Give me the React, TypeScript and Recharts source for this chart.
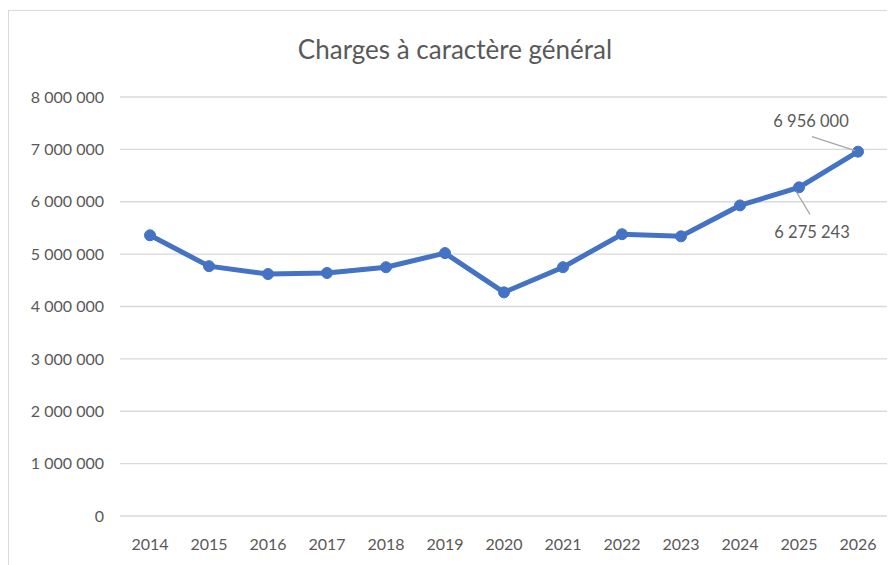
import { CartesianGrid, LabelList, Line, LineChart, XAxis, YAxis } from "recharts";

const years = ["2014", "2015", "2016", "2017", "2018", "2019", "2020", "2021", "2022", "2023", "2024", "2025", "2026"];
const charges = [5360000, 4770000, 4620000, 4640000, 4750000, 5020000, 4270000, 4750000, 5380000, 5340000, 5930000, 6275243, 6956000];
const yTicks = [0, 1000000, 2000000, 3000000, 4000000, 5000000, 6000000, 7000000, 8000000];

const data = years.map((year, i) => ({ year, value: charges[i] }));

const font = "Lato, 'Open Sans', sans-serif";
const grey = "#595959";

const fmt = (v: number) => String(Math.round(v)).replace(/\B(?=(\d{3})+(?!\d))/g, " ");

function PointLabel(props: any) {
  const { x, y, index, value } = props;
  if (index === 12) {
    return (
      <g>
        <line x1={x - 46} y1={y - 15} x2={x - 3} y2={y - 1} stroke="#a6a6a6" strokeWidth={1.2} />
        <text x={x - 47} y={y - 25} textAnchor="middle" fill={grey} fontSize={16.5} fontFamily={font}>{fmt(value)}</text>
      </g>
    );
  }
  if (index === 11) {
    return (
      <g>
        <line x1={x - 3} y1={y + 4} x2={x + 11} y2={y + 27} stroke="#a6a6a6" strokeWidth={1.2} />
        <text x={x + 13} y={y + 51} textAnchor="middle" fill={grey} fontSize={16.5} fontFamily={font}>{fmt(value)}</text>
      </g>
    );
  }
  return null;
}

export default function App() {
  return (
    <div style={{ position: "relative", marginTop: 2, width: 892, height: 570, border: "1px solid #d9d9d9", background: "#fff" }}>
      <style>{"body{overflow:hidden}"}</style>
      <div style={{ position: "absolute", left: 0, top: 22, width: 892, textAlign: "center", fontFamily: font, fontSize: 26, color: grey }}>
        Charges à caractère général
      </div>
      <LineChart width={882} height={554} data={data} margin={{ top: 86, right: 3, bottom: 15, left: 0 }}>
        <CartesianGrid horizontal vertical={false} stroke="#d9d9d9" strokeWidth={1.3} />
        <XAxis
          dataKey="year"
          axisLine={false}
          tickLine={false}
          tickSize={0}
          tickMargin={23}
          height={34}
          padding={{ left: 30, right: 30 }}
          tick={{ fill: grey, fontSize: 16, fontFamily: font }}
        />
        <YAxis
          domain={[0, 8000000]}
          ticks={yTicks}
          width={111}
          axisLine={false}
          tickLine={false}
          tickSize={0}
          tickMargin={16}
          tickFormatter={fmt}
          tick={{ fill: grey, fontSize: 16, fontFamily: font }}
        />
        <Line
          type="linear"
          dataKey="value"
          stroke="#4472C4"
          strokeWidth={5}
          dot={{ r: 5.5, fill: "#4472C4", stroke: "#4472C4", strokeWidth: 1 }}
          isAnimationActive={false}
        >
          <LabelList dataKey="value" content={PointLabel} />
        </Line>
      </LineChart>
    </div>
  );
}
